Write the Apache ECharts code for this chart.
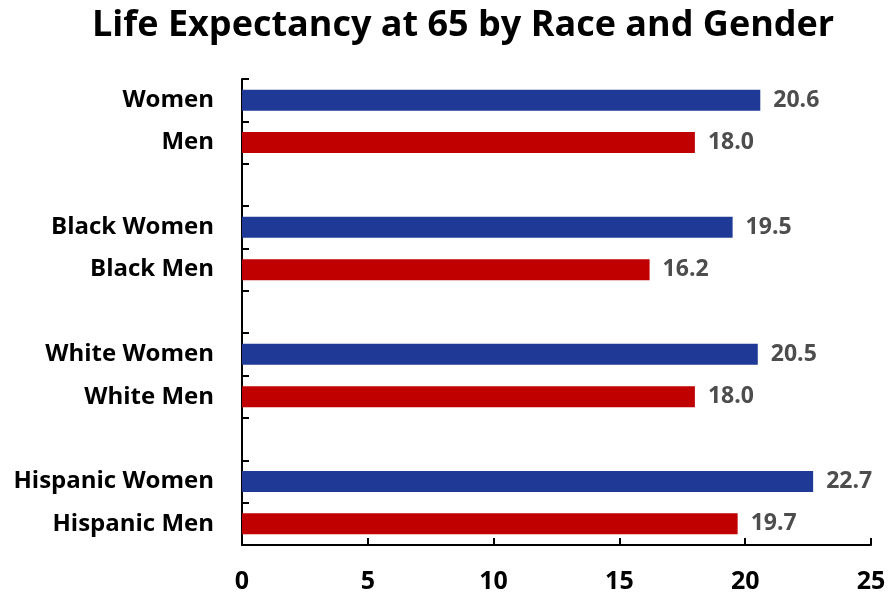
<!DOCTYPE html>
<html>
<head>
<meta charset="utf-8">
<script src="https://cdn.jsdelivr.net/npm/echarts@6/dist/echarts.min.js"></script>
<style>html,body{margin:0;padding:0;background:#fff;}#c{width:891px;height:598px;}</style>
</head>
<body>
<div id="c"></div>
<script>
const categories = ['Women', 'Men', ' ', 'Black Women', 'Black Men', '  ', 'White Women', 'White Men', '   ', 'Hispanic Women', 'Hispanic Men'];
const values = [20.6, 18.0, null, 19.5, 16.2, null, 20.5, 18.0, null, 22.7, 19.7];
const xTicks = [0, 5, 10, 15, 20, 25];
const titleText = 'Life Expectancy at 65 by Race and Gender';
const womenColor = '#1f3a96';
const menColor = '#c00000';

const chart = echarts.init(document.getElementById('c'), null, {renderer: 'canvas'});
const font = '"Open Sans", "DejaVu Sans", sans-serif';
chart.setOption({
  animation: false,
  backgroundColor: '#fff',
  title: {
    text: titleText,
    left: 87,
    top: 3,
    textStyle: {fontFamily: font, fontSize: 36, fontWeight: 'bold', color: '#000'}
  },
  grid: {left: 242, right: 20, top: 79, bottom: 53, containLabel: false},
  xAxis: {
    type: 'value',
    min: xTicks[0],
    max: xTicks[xTicks.length - 1],
    interval: 5,
    axisLine: {show: true, lineStyle: {color: '#000', width: 2}},
    axisTick: {show: true, inside: true, length: 7, lineStyle: {color: '#000', width: 2}},
    splitLine: {show: false},
    axisLabel: {fontFamily: font, fontSize: 25, fontWeight: 'bold', color: '#000', margin: 24}
  },
  yAxis: {
    type: 'category',
    data: categories,
    inverse: true,
    axisLine: {show: true, lineStyle: {color: '#000', width: 2}},
    axisTick: {show: true, inside: true, length: 7, lineStyle: {color: '#000', width: 2}},
    axisLabel: {fontFamily: font, fontSize: 24, fontWeight: 'bold', color: '#000', margin: 28}
  },
  series: [{
    type: 'bar',
    data: values,
    barWidth: 21,
    itemStyle: {
      color: function (p) { return /Women/.test(p.name) ? womenColor : menColor; }
    },
    label: {
      show: true,
      position: 'right',
      distance: 13,
      fontFamily: font,
      fontSize: 23,
      fontWeight: 'bold',
      color: '#4d4d4d',
      formatter: function (p) { return p.value == null ? '' : p.value.toFixed(1); }
    }
  }]
});
</script>
</body>
</html>
